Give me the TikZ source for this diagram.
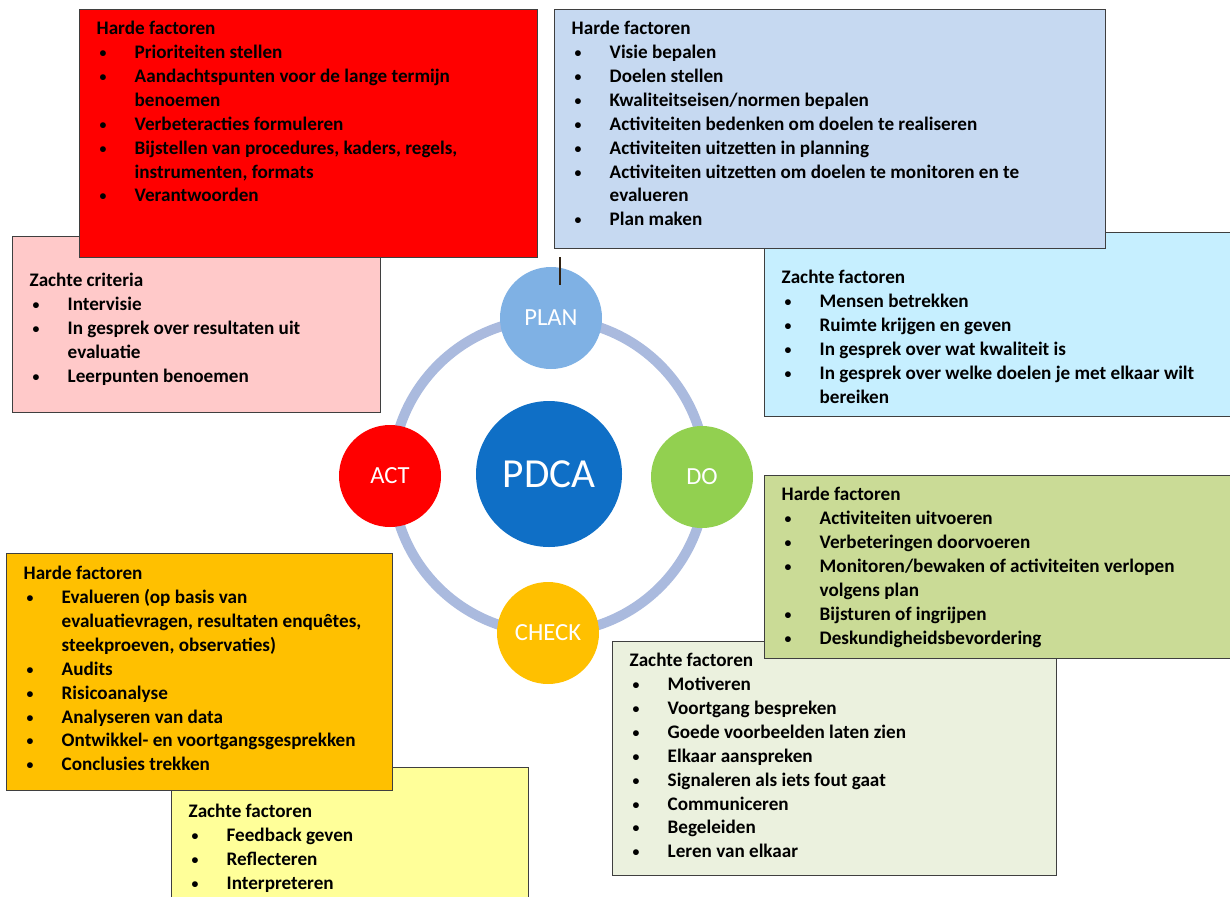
\documentclass[tikz,border=0pt]{standalone}
\usepackage{fontspec}
\setmainfont{Carlito}
\usetikzlibrary{positioning}

\definecolor{boxline}{HTML}{3F3F3F}
\definecolor{actred}{HTML}{FF0000}
\definecolor{actpink}{HTML}{FFC9C9}
\definecolor{planblue}{HTML}{C6D9F1}
\definecolor{plancyan}{HTML}{C6EFFF}
\definecolor{dogreen}{HTML}{CADB96}
\definecolor{dolight}{HTML}{EBF1DE}
\definecolor{checkorange}{HTML}{FFC000}
\definecolor{checkyellow}{HTML}{FFFF99}
\definecolor{ringcol}{HTML}{AABADE}
\definecolor{pdcacol}{HTML}{0F6FC6}
\definecolor{plancol}{HTML}{7FB1E4}
\definecolor{docol}{HTML}{92D050}

\newlength{\unitpx}
\setlength{\unitpx}{0.02cm}
% box text: width, height, first baseline, contents
\newcommand{\vak}[4]{\parbox[t][#2\unitpx][t]{#1\unitpx}{\bfseries\fontsize{10.9}{13.6}\selectfont\raggedright\rule{0pt}{#3\unitpx}#4}}
\newcommand{\punt}{\par\hangindent=38\unitpx\hangafter=1\noindent\makebox[38\unitpx][l]{\hspace{3\unitpx}\raisebox{0.6pt}{\scalebox{0.72}{\textbullet}}}}

\tikzset{
  factbox/.style={draw=boxline, line width=1.4\unitpx, rectangle, anchor=north west, inner xsep=16\unitpx, inner ysep=0pt},
  stap/.style={circle, minimum size=102\unitpx, inner sep=0pt, text=white, font=\fontsize{14}{16}\selectfont},
  ring/.style={draw=ringcol, line width=10\unitpx}
}

\begin{document}
\begin{tikzpicture}[x=0.02cm, y=-0.02cm]
\useasboundingbox (0,0) rectangle (1230,896);

% cycle
\coordinate (cycle) at (549,476);
\draw[ring] (cycle) circle[radius=157\unitpx];
\node[circle, fill=pdcacol, minimum size=146\unitpx, inner sep=0pt, text=white, font=\fontsize{23.5}{27}\selectfont] (pdca) at (549,474) {PDCA};
\node[stap, fill=plancol] (plan) at (551,318) {PLAN};
\node[stap, fill=docol] (do) at (702,477) {DO};
\node[stap, fill=checkorange] (check) at (548,633) {CHECK};
\node[stap, fill=actred] (act) at (390,476) {ACT};
\coordinate (planmark) at (560,257);
\coordinate (planmarkend) at (560,285);
\draw[line width=1.6\unitpx, black!75!brown] (planmark) -- (planmarkend);

% act
\node[factbox, fill=actpink, minimum width=368\unitpx] (actsoft) at (12,236) {\vak{334}{176}{50}{Zachte criteria
\punt Intervisie
\punt In gesprek over resultaten uit\newline evaluatie
\punt Leerpunten benoemen}};
\node[factbox, fill=actred, minimum width=458\unitpx] (acthard) at (79,9) {\vak{424}{248}{25}{Harde factoren
\punt Prioriteiten stellen
\punt Aandachtspunten voor de lange termijn\newline benoemen
\punt Verbeteracties formuleren
\punt Bijstellen van procedures, kaders, regels,\newline instrumenten, formats
\punt Verantwoorden}};

% plan
\node[factbox, fill=plancyan, minimum width=472\unitpx] (plansoft) at (764,232) {\vak{438}{184}{51}{Zachte factoren
\punt Mensen betrekken
\punt Ruimte krijgen en geven
\punt In gesprek over wat kwaliteit is
\punt In gesprek over welke doelen je met elkaar wilt\newline bereiken}};
\node[factbox, fill=planblue, minimum width=551\unitpx] (planhard) at (554,9) {\vak{517}{239}{25}{Harde factoren
\punt Visie bepalen
\punt Doelen stellen
\punt Kwaliteitseisen/normen bepalen
\punt Activiteiten bedenken om doelen te realiseren
\punt Activiteiten uitzetten in planning
\punt Activiteiten uitzetten om doelen te monitoren en te\newline evalueren
\punt Plan maken}};

% do
\node[factbox, fill=dolight, minimum width=444\unitpx] (dosoft) at (612,641) {\vak{410}{234}{25}{Zachte factoren
\punt Motiveren
\punt Voortgang bespreken
\punt Goede voorbeelden laten zien
\punt Elkaar aanspreken
\punt Signaleren als iets fout gaat
\punt Communiceren
\punt Begeleiden
\punt Leren van elkaar}};
\node[factbox, fill=dogreen, minimum width=472\unitpx] (dohard) at (764,475) {\vak{438}{183}{25}{Harde factoren
\punt Activiteiten uitvoeren
\punt Verbeteringen doorvoeren
\punt Monitoren/bewaken of activiteiten verlopen\newline volgens plan
\punt Bijsturen of ingrijpen
\punt Deskundigheidsbevordering}};

% check
\node[factbox, fill=checkyellow, minimum width=357\unitpx] (checksoft) at (171,767) {\vak{323}{150}{50}{Zachte factoren
\punt Feedback geven
\punt Reflecteren
\punt Interpreteren}};
\node[factbox, fill=checkorange, minimum width=386\unitpx] (checkhard) at (6,553) {\vak{352}{237}{26}{Harde factoren
\punt Evalueren (op basis van\newline evaluatievragen, resultaten enquêtes,\newline steekproeven, observaties)
\punt Audits
\punt Risicoanalyse
\punt Analyseren van data
\punt Ontwikkel- en voortgangsgesprekken
\punt Conclusies trekken}};
\end{tikzpicture}
\end{document}
